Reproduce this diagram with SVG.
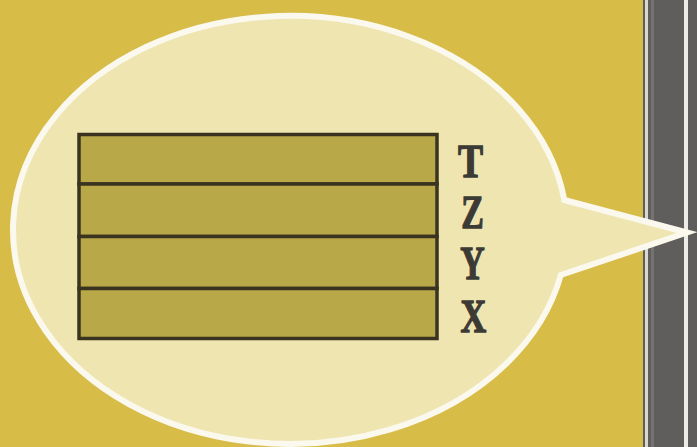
<svg xmlns="http://www.w3.org/2000/svg" width="697" height="447" viewBox="0 0 697 447">
  <style>
    .band { fill: #B8A847; stroke: #3A3320; stroke-width: 3.5; }
    .lbl { font-family: "Liberation Serif", "Times New Roman", serif; font-weight: bold; font-size: 47px; fill: #3B3A34; stroke: #3B3A34; stroke-width: 1.3; text-anchor: middle; }
  </style>
  <rect id="background" x="0" y="0" width="697" height="447" fill="#D7BC47"/>
  <g id="stripes">
    <rect x="643" y="0" width="54" height="447" fill="#5F5E5C"/>
    <rect x="645" y="0" width="3" height="447" fill="#D9D8D0"/>
    <rect x="651" y="0" width="3" height="447" fill="#74736F"/>
    <rect x="684" y="0" width="4" height="447" fill="#ECEBE5"/>
  </g>
  <g id="bubble">
    <path d="M 564.3 200 L 687 232.5 L 560.8 275 A 277 214 0 1 1 564.3 200 Z" fill="#EFE5B1" stroke="#FBF8EE" stroke-width="6" stroke-linejoin="miter" stroke-miterlimit="6"/>
  </g>
  <g id="layers">
    <rect class="band" x="79" y="134.5" width="358" height="49.5"/>
    <rect class="band" x="79" y="184" width="358" height="52.5"/>
    <rect class="band" x="79" y="236.5" width="358" height="52"/>
    <rect class="band" x="79" y="288.5" width="358" height="50"/>
  </g>
  <g id="labels">
    <text class="lbl" transform="translate(470.5 176.5) scale(0.8 1)">T</text>
    <text class="lbl" transform="translate(472.5 227.5) scale(0.72 1)">Z</text>
    <text class="lbl" transform="translate(472.5 278.5) scale(0.72 1)">Y</text>
    <text class="lbl" transform="translate(473.5 331.5) scale(0.76 1)">X</text>
  </g>
</svg>
